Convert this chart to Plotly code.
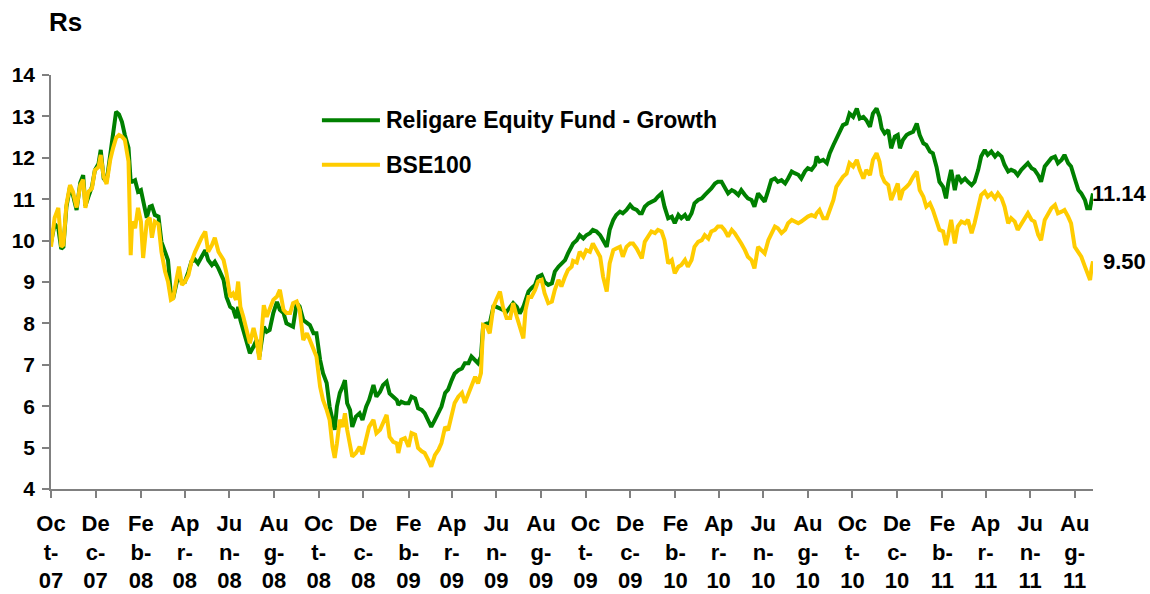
import pandas as pd
import plotly.graph_objects as go

start_date = "2007-10-01"
# days elapsed since start_date for each reading
days = [0, 5, 10, 14, 17, 21, 26, 30, 35, 40, 44, 47, 51, 56, 60, 65, 68, 72, 76, 81,
        85, 89, 93, 97, 101, 106, 109, 111, 115, 119, 123, 126, 131, 135, 138, 142, 147, 151, 156, 160,
        164, 167, 172, 175, 179, 183, 188, 192, 197, 201, 206, 211, 215, 220, 224, 229,
        236, 240, 245, 249, 253, 256, 259, 263, 268, 272, 277, 281, 285, 288, 291, 295, 299, 304, 309, 313,
        318, 322, 327, 331, 336, 340, 345, 350, 354, 359, 363, 368, 372, 377, 381, 385, 388, 391, 395, 399,
        402, 405, 409, 412, 417, 422, 426, 431, 435, 441, 445, 450, 454, 459, 463, 468, 473,
        475, 479, 484, 489, 493, 498, 502, 507, 511, 516, 520, 525, 530, 534, 539, 543, 548, 552, 557, 562,
        566, 571, 575, 580, 584, 588, 591, 596, 600, 605, 609, 614, 618, 623, 628, 632, 637, 641, 646, 649,
        653, 657, 662, 666, 671, 675, 680, 685, 689, 694, 698, 703, 707, 712,
        714, 719, 723, 728, 732, 737, 741, 746, 751, 755, 760, 764, 769, 773, 778, 782, 787, 792, 796, 801,
        805, 808, 812, 817, 821, 826, 830, 835, 839, 844, 849, 853, 858, 862, 867, 871, 876, 880, 885, 890,
        894, 899, 903, 908, 912, 917, 921, 926, 931, 935, 940, 944, 949, 953,
        958, 962, 967, 972, 976, 981, 985, 990, 994, 999, 1004, 1008, 1013, 1017, 1022, 1026, 1031, 1035,
        1040, 1045, 1047, 1051, 1056, 1061, 1065, 1070, 1074, 1079, 1083, 1088, 1092, 1097, 1102, 1106,
        1111, 1115, 1120, 1124, 1129, 1133, 1136, 1140, 1145, 1149, 1154, 1158, 1161, 1165, 1170, 1174,
        1179, 1184, 1188,
        1193, 1197, 1202, 1206, 1211, 1215, 1220, 1224, 1227, 1231, 1236, 1240, 1245, 1250, 1254, 1259,
        1263, 1268, 1272, 1277, 1281, 1286, 1291, 1295, 1300, 1304, 1309, 1313, 1318, 1322, 1327, 1332,
        1336, 1341, 1345, 1350, 1354, 1359, 1364, 1368, 1373, 1377, 1382, 1386, 1391, 1395, 1400, 1405,
        1409, 1414, 1417, 1421, 1423, 1425]

fund = [9.95, 10.4, 10.3, 9.8, 9.85, 10.8, 11.3, 11.1, 10.74, 11.4, 11.58, 10.84, 11.05, 11.3, 11.7, 11.86, 12.19, 11.5, 11.42, 12.1,
        12.48, 13.11, 13.05, 12.87, 12.55, 12.24, 11.42, 11.42, 11.46, 11.18, 11.22, 10.94, 10.55, 10.82, 10.84, 10.62, 10.58, 9.97, 9.7, 9.53,
        8.69, 8.6, 9.0, 9.1, 9.0, 9.0, 9.25, 9.49, 9.54, 9.45, 9.61, 9.77, 9.53, 9.41, 9.49, 9.33,
        9.05, 8.64, 8.40, 8.35, 8.13, 8.4, 8.08, 7.84, 7.52, 7.28, 7.44, 7.60, 7.2, 7.6, 7.92, 7.8, 7.84, 8.25, 8.52, 8.33,
        8.25, 8.0, 7.96, 7.92, 8.49, 8.41, 8.08, 8.0, 7.96, 7.76, 7.76, 7.12, 6.8, 6.56, 5.99, 5.67, 5.43, 5.99, 6.32, 6.48,
        6.63, 6.07, 5.91, 5.50, 5.75, 5.83, 5.67, 5.99, 6.15, 6.51, 6.23, 6.35, 6.51, 6.59, 6.31, 6.23, 6.15,
        6.03, 6.11, 6.07, 6.07, 6.23, 6.19, 5.95, 5.91, 5.83, 5.67, 5.50, 5.67, 5.83, 5.99, 6.32, 6.40, 6.63, 6.79, 6.87, 6.91,
        7.04, 7.04, 7.2, 7.12, 7.04, 7.2, 7.96, 8.0, 8.0, 8.40, 8.40, 8.36, 8.33, 8.28, 8.40, 8.49, 8.40, 8.24, 8.40, 8.57,
        8.77, 8.85, 8.93, 9.13, 9.17, 9.0, 8.93, 8.97, 9.25, 9.37, 9.45, 9.53, 9.69, 9.85,
        9.93, 10.01, 10.13, 10.05, 10.13, 10.18, 10.26, 10.22, 10.13, 10.01, 9.85, 10.26, 10.5, 10.62, 10.70, 10.66, 10.74, 10.86, 10.78, 10.74,
        10.66, 10.66, 10.82, 10.90, 10.94, 10.98, 11.06, 11.14, 10.82, 10.54, 10.58, 10.42, 10.62, 10.54, 10.62, 10.50, 10.66, 10.90, 10.98, 11.02,
        11.10, 11.18, 11.26, 11.38, 11.42, 11.42, 11.30, 11.14, 11.22, 11.18, 11.10, 11.22, 11.10, 11.02,
        10.98, 10.82, 11.14, 11.02, 10.94, 11.22, 11.46, 11.50, 11.42, 11.46, 11.38, 11.50, 11.67, 11.63, 11.59, 11.50, 11.67, 11.75,
        11.71, 11.83, 12.03, 11.91, 11.95, 11.87, 12.11, 12.31, 12.47, 12.67, 12.79, 12.83, 13.07, 12.99, 13.19, 12.95,
        12.99, 12.91, 12.75, 13.07, 13.19, 12.99, 12.71, 12.59, 12.67, 12.23, 12.51, 12.55, 12.23, 12.43, 12.55, 12.59,
        12.63, 12.83, 12.55,
        12.35, 12.31, 12.15, 12.11, 11.78, 11.42, 11.30, 11.02, 11.38, 11.71, 11.22, 11.58, 11.42, 11.50, 11.42, 11.34,
        11.42, 11.71, 12.03, 12.19, 12.07, 12.15, 12.03, 12.11, 12.03, 11.83, 11.67, 11.71, 11.67, 11.58, 11.71, 11.79,
        11.87, 11.75, 11.71, 11.58, 11.42, 11.79, 11.91, 11.99, 12.03, 11.87, 11.95, 12.07, 11.87, 11.79, 11.50, 11.22,
        11.14, 10.98, 10.78, 10.78, 10.98, 11.14]

bse100 = [9.85, 10.55, 10.79, 9.85, 9.9, 10.86, 11.34, 11.18, 10.8, 11.34, 11.47, 10.79, 11.18, 11.26, 11.7, 11.78, 12.07, 11.54, 11.37, 11.95,
          12.24, 12.48, 12.55, 12.51, 12.43, 11.91, 9.65, 10.46, 10.3, 10.79, 10.46, 9.58, 10.46, 10.55, 10.07, 10.46, 10.4, 9.73, 9.25, 9.01,
          8.57, 8.6, 9.1, 9.37, 8.93, 9.0, 9.17, 9.49, 9.73, 9.89, 10.07, 10.22, 9.73, 9.89, 10.07, 9.73,
          9.53, 9.21, 8.64, 8.72, 8.57, 9.01, 8.40, 8.16, 7.77, 7.52, 7.89, 7.60, 7.12, 7.68, 8.44, 8.16, 8.33, 8.57, 8.65, 8.81,
          8.33, 8.25, 8.25, 8.49, 8.53, 8.33, 7.6, 7.76, 7.6, 7.36, 7.2, 6.47, 6.15, 5.91, 5.67, 5.02, 4.75, 5.1, 5.67, 5.5,
          5.83, 5.43, 5.1, 4.78, 4.87, 5.02, 4.84, 5.26, 5.50, 5.67, 5.35, 5.43, 5.59, 5.79, 5.26, 5.14, 5.10,
          4.87, 5.19, 5.23, 5.02, 5.35, 5.31, 4.99, 4.91, 4.87, 4.70, 4.54, 4.82, 4.95, 5.11, 5.50, 5.42, 5.83, 6.08, 6.23, 6.32,
          6.08, 6.32, 6.47, 6.71, 6.55, 6.8, 7.96, 7.92, 7.76, 8.40, 8.57, 8.77, 8.40, 8.13, 8.13, 8.49, 8.16, 7.92, 7.64, 8.33,
          8.64, 8.64, 8.81, 9.01, 9.05, 8.73, 8.49, 8.53, 8.81, 9.05, 8.89, 9.13, 9.29, 9.37,
          9.51, 9.47, 9.73, 9.61, 9.77, 9.73, 9.93, 9.77, 9.61, 9.13, 8.77, 9.45, 9.77, 9.81, 9.85, 9.61, 9.85, 9.93, 9.93, 9.81,
          9.69, 9.57, 9.97, 10.10, 10.22, 10.18, 10.26, 10.22, 10.01, 9.45, 9.53, 9.21, 9.37, 9.41, 9.53, 9.37, 9.53, 9.85, 9.97, 10.01,
          10.13, 10.05, 10.22, 10.26, 10.34, 10.34, 10.26, 10.10, 10.26, 10.18, 10.05, 9.93, 9.77, 9.61,
          9.53, 9.33, 9.85, 9.77, 9.69, 10.01, 10.18, 10.34, 10.30, 10.18, 10.26, 10.42, 10.50, 10.46, 10.42, 10.46, 10.54, 10.58,
          10.62, 10.58, 10.66, 10.74, 10.54, 10.54, 10.74, 10.98, 11.30, 11.46, 11.54, 11.62, 11.87, 11.79, 11.95, 11.71,
          11.50, 11.71, 11.58, 11.95, 12.11, 11.91, 11.58, 11.42, 11.34, 10.98, 11.22, 11.38, 10.98, 11.22, 11.30, 11.38,
          11.54, 11.67, 11.22,
          11.06, 10.82, 10.90, 10.74, 10.50, 10.26, 10.22, 9.89, 10.13, 10.50, 9.93, 10.34, 10.46, 10.42, 10.50, 10.18,
          10.42, 10.78, 11.10, 11.18, 11.06, 11.14, 11.02, 11.14, 11.02, 10.82, 10.42, 10.54, 10.46, 10.26, 10.42, 10.58,
          10.66, 10.50, 10.46, 10.14, 10.01, 10.50, 10.66, 10.78, 10.86, 10.66, 10.70, 10.74, 10.58, 10.42, 9.85, 9.69,
          9.61, 9.37, 9.21, 9.05, 9.33, 9.50]

series_names = ["Religare Equity Fund - Growth", "BSE100"]
series_colors = ["#008000", "#FFCC00"]
end_labels = ["11.14", "9.50"]

tick_months = ["2007-10-01", "2007-12-01", "2008-02-01", "2008-04-01", "2008-06-01", "2008-08-01",
               "2008-10-01", "2008-12-01", "2009-02-01", "2009-04-01", "2009-06-01", "2009-08-01",
               "2009-10-01", "2009-12-01", "2010-02-01", "2010-04-01", "2010-06-01", "2010-08-01",
               "2010-10-01", "2010-12-01", "2011-02-01", "2011-04-01", "2011-06-01", "2011-08-01"]
tick_names = ["Oct-07", "Dec-07", "Feb-08", "Apr-08", "Jun-08", "Aug-08",
              "Oct-08", "Dec-08", "Feb-09", "Apr-09", "Jun-09", "Aug-09",
              "Oct-09", "Dec-09", "Feb-10", "Apr-10", "Jun-10", "Aug-10",
              "Oct-10", "Dec-10", "Feb-11", "Apr-11", "Jun-11", "Aug-11"]

dates = pd.Timestamp(start_date) + pd.to_timedelta(days, unit="D")
wrapped = [f"{t[:2]}<br>{t[2]}-<br>{t[4:]}" for t in tick_names]

FONT = "Liberation Sans, Arial, sans-serif"
fig = go.Figure()
for name, vals, col in zip(series_names, [fund, bse100], series_colors):
    fig.add_trace(go.Scatter(x=dates, y=vals, mode="lines", name=name,
                             line=dict(color=col, width=4), showlegend=False))

ann = []
# end labels
for vals, lab, shift in zip([fund, bse100], end_labels, [-3, 8]):
    ann.append(dict(x=dates[-1], y=vals[-1], xref="x", yref="y", text=lab, showarrow=False,
                    xanchor="left", yanchor="middle", xshift=shift,
                    font=dict(family=FONT, size=22, color="black", weight="bold")))
# manual legend
legend_y = [0.891, 0.783]
shapes = []
for ly, name, col in zip(legend_y, series_names, series_colors):
    shapes.append(dict(type="line", xref="paper", yref="paper", x0=0.260, x1=0.3157, y0=ly, y1=ly,
                       line=dict(color=col, width=4)))
    ann.append(dict(x=0.3195, y=ly, xref="paper", yref="paper", text=name, showarrow=False,
                    xanchor="left", yanchor="middle",
                    font=dict(family=FONT, size=23, color="black", weight="bold")))
ann.append(dict(x=-0.004, y=1.128, xref="paper", yref="paper", text="Rs", showarrow=False,
                xanchor="left", yanchor="middle",
                font=dict(family=FONT, size=26, color="black", weight="bold")))

fig.update_layout(
    width=1150, height=594,
    margin=dict(l=51, r=57, t=75, b=105),
    paper_bgcolor="white", plot_bgcolor="white",
    annotations=ann, shapes=shapes,
    xaxis=dict(type="date", range=[dates[0], dates[-1]], tickvals=tick_months, ticktext=wrapped,
               automargin=False,
               showgrid=False, zeroline=False, showline=True, linecolor="#808080", linewidth=1.5,
               ticks="outside", ticklen=7, tickcolor="#808080", tickwidth=1.5,
               ticklabelstandoff=7,
               tickfont=dict(family=FONT, size=22, color="black", weight="bold")),
    yaxis=dict(range=[4, 14], dtick=1, tick0=4, showgrid=False, zeroline=False, automargin=False,
               showline=True, linecolor="#808080", linewidth=1.5,
               ticks="outside", ticklen=7, tickcolor="#808080", tickwidth=1.5,
               ticklabelstandoff=3,
               tickfont=dict(family=FONT, size=21, color="black", weight="bold")),
)
fig.write_html("out.html", config={"displayModeBar": False},
               post_script="document.body.style.margin='0';")
